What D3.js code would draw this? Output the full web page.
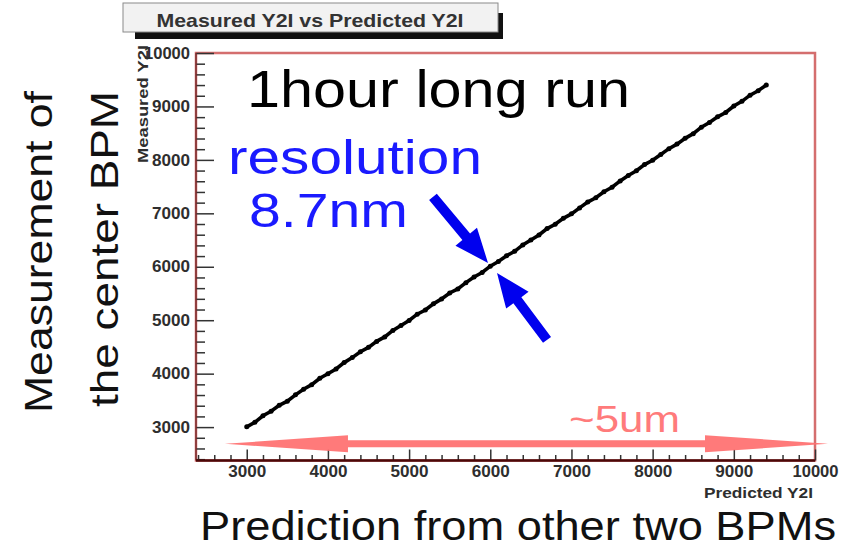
<!DOCTYPE html>
<html>
<head>
<meta charset="utf-8">
<script src="https://cdn.jsdelivr.net/npm/d3@7"></script>
<style>
  body { margin: 0; background: #fff; }
  svg { display: block; }
</style>
</head>
<body>
<div id="chart"></div>
<script>
// values
const predicted = [3000, 3100, 3200, 3300, 3400, 3500, 3600, 3700, 3800, 3900,
  4000, 4100, 4200, 4300, 4400, 4500, 4600, 4700, 4800, 4900,
  5000, 5100, 5200, 5300, 5400, 5500, 5600, 5700, 5800, 5900,
  6000, 6100, 6200, 6300, 6400, 6500, 6600, 6700, 6800, 6900,
  7000, 7100, 7200, 7300, 7400, 7500, 7600, 7700, 7800, 7900,
  8000, 8100, 8200, 8300, 8400, 8500, 8600, 8700, 8800, 8900,
  9000, 9100, 9200, 9300, 9400];
const measured = [3005, 3090, 3212, 3296, 3408, 3485, 3603, 3710, 3794, 3914,
  3998, 4088, 4207, 4300, 4411, 4492, 4604, 4687, 4809, 4902,
  4995, 5113, 5191, 5306, 5399, 5510, 5586, 5703, 5808, 5893,
  6012, 6097, 6205, 6289, 6409, 6501, 6594, 6714, 6796, 6907,
  6990, 7102, 7211, 7292, 7404, 7488, 7606, 7709, 7798, 7913,
  7993, 8100, 8210, 8295, 8403, 8491, 8612, 8699, 8806, 8887,
  9008, 9096, 9211, 9294, 9402];
const majorTicks = [3000, 4000, 5000, 6000, 7000, 8000, 9000, 10000];
const minorTicks = [2400, 2600, 2800, 3200, 3400, 3600, 3800, 4200, 4400, 4600, 4800,
  5200, 5400, 5600, 5800, 6200, 6400, 6600, 6800, 7200, 7400, 7600, 7800,
  8200, 8400, 8600, 8800, 9200, 9400, 9600, 9800];
const axisMin = 2375, axisMax = 10000;

const W = 856, H = 556;
const frame = { left: 196, right: 815, top: 53, bottom: 460.5 };

const svg = d3.select("#chart").append("svg")
  .attr("width", W).attr("height", H);

const x = d3.scaleLinear().domain([axisMin, axisMax]).range([frame.left, frame.right]);
const y = d3.scaleLinear().domain([axisMin, axisMax]).range([frame.bottom, frame.top]);

// title box with shadow
svg.append("rect").attr("x", 135).attr("y", 13).attr("width", 368).attr("height", 26).attr("fill", "#111");
svg.append("rect").attr("x", 123).attr("y", 3).attr("width", 375).attr("height", 29)
  .attr("fill", "#f2f2f2").attr("stroke", "#8a8a8a").attr("stroke-width", 1);
svg.append("text")
  .attr("x", 310).attr("y", 27)
  .attr("text-anchor", "middle")
  .attr("textLength", 307).attr("lengthAdjust", "spacingAndGlyphs")
  .style("font-family", "Liberation Sans, Arial, sans-serif")
  .style("font-size", "19px").style("font-weight", "bold")
  .style("fill", "#333")
  .text("Measured Y2I vs Predicted Y2I");

// frame
svg.append("rect")
  .attr("x", frame.left).attr("y", frame.top)
  .attr("width", frame.right - frame.left).attr("height", frame.bottom - frame.top)
  .attr("fill", "none").attr("stroke", "#d46e6e").attr("stroke-width", 2.5);

// axes
function styleAxis(g) {
  g.select(".domain").remove();
  g.selectAll(".tick line").attr("stroke", "#333").attr("stroke-width", 1.5);
}
const fmt = d3.format("d");
const gx = svg.append("g").attr("transform", `translate(0,${frame.bottom})`);
gx.call(d3.axisBottom(x).tickValues(minorTicks).tickSize(-5.5).tickFormat("")).call(styleAxis);
const gx2 = svg.append("g").attr("transform", `translate(0,${frame.bottom})`);
gx2.call(d3.axisBottom(x).tickValues(majorTicks).tickSize(-11).tickPadding(5).tickFormat(fmt)).call(styleAxis);
gx2.selectAll(".tick text").attr("dy", "0.71em");

const gy = svg.append("g").attr("transform", `translate(${frame.left},0)`);
gy.call(d3.axisLeft(y).tickValues(minorTicks).tickSize(-9).tickFormat("")).call(styleAxis);
const gy2 = svg.append("g").attr("transform", `translate(${frame.left},0)`);
gy2.call(d3.axisLeft(y).tickValues(majorTicks).tickSize(-18).tickPadding(6).tickFormat(fmt)).call(styleAxis);

svg.selectAll(".tick text")
  .attr("textLength", d => d >= 10000 ? 46 : 38).attr("lengthAdjust", "spacingAndGlyphs")
  .style("font-family", "Liberation Sans, Arial, sans-serif")
  .style("font-size", "16px").style("font-weight", "bold")
  .style("fill", "#2e2e2e");

// axis lines
svg.append("line").attr("x1", frame.left).attr("x2", frame.left).attr("y1", frame.top).attr("y2", frame.bottom)
  .attr("stroke", "#7a2f2f").attr("stroke-width", 1.5);
svg.append("line").attr("x1", frame.left).attr("x2", frame.right).attr("y1", frame.bottom).attr("y2", frame.bottom)
  .attr("stroke", "#4a0808").attr("stroke-width", 2.5);

// axis titles
svg.append("text")
  .attr("transform", "translate(148,45) rotate(-90)")
  .attr("text-anchor", "end")
  .attr("textLength", 118).attr("lengthAdjust", "spacingAndGlyphs")
  .style("font-family", "Liberation Sans, Arial, sans-serif")
  .style("font-size", "14px").style("font-weight", "bold").style("fill", "#2e2e2e")
  .text("Measured Y2I");
svg.append("text")
  .attr("x", 813).attr("y", 498)
  .attr("text-anchor", "end")
  .attr("textLength", 109).attr("lengthAdjust", "spacingAndGlyphs")
  .style("font-family", "Liberation Sans, Arial, sans-serif")
  .style("font-size", "14px").style("font-weight", "bold").style("fill", "#2e2e2e")
  .text("Predicted Y2I");

// scatter of measured vs predicted
const points = predicted.map((p, i) => [p, measured[i]]);
svg.append("path")
  .datum(points)
  .attr("fill", "none").attr("stroke", "#000").attr("stroke-width", 3.6)
  .attr("d", d3.line().x(d => x(d[0])).y(d => y(d[1])));
svg.selectAll(".pt")
  .data(points)
  .enter().append("circle")
  .attr("class", "pt")
  .attr("cx", d => x(d[0])).attr("cy", d => y(d[1]))
  .attr("r", 2.5).attr("fill", "#000");

// pink double arrow (~5um)
const pinkArrow = { from: 2732, to: 10160, at: 2688, headLeft: 4247, headRight: 8645 };
{
  const cy = y(pinkArrow.at), sh = 3.5, hh = 8.5;
  const x0 = x(pinkArrow.from), x1 = x(pinkArrow.headLeft), x2 = x(pinkArrow.headRight), x3 = x(pinkArrow.to);
  const pts = [[x0, cy], [x1, cy - hh], [x1, cy - sh], [x2, cy - sh], [x2, cy - hh], [x3, cy],
    [x2, cy + hh], [x2, cy + sh], [x1, cy + sh], [x1, cy + hh]];
  svg.append("polygon").attr("points", pts.map(p => p.join(",")).join(" "))
    .attr("fill", "#ff6f6f").attr("opacity", 0.92);
}

// blue arrows pointing at the line
const blueArrows = [
  { x0: 5294, y0: 7307, x1: 5972, y1: 6072 },
  { x0: 6699, y0: 4632, x1: 6083, y1: 5885 }
];
blueArrows.forEach(a => {
  const ax = x(a.x0), ay = y(a.y0), bx = x(a.x1), by = y(a.y1);
  const len = Math.hypot(bx - ax, by - ay);
  const ux = (bx - ax) / len, uy = (by - ay) / len, nx = -uy, ny = ux;
  const hl = 34, hw = 14, sw = 5;
  const cx = bx - ux * hl, cy = by - uy * hl;
  const pts = [
    [ax + nx * sw, ay + ny * sw], [cx + nx * sw, cy + ny * sw], [cx + nx * hw, cy + ny * hw],
    [bx, by],
    [cx - nx * hw, cy - ny * hw], [cx - nx * sw, cy - ny * sw], [ax - nx * sw, ay - ny * sw]
  ];
  svg.append("polygon").attr("points", pts.map(p => p.join(",")).join(" ")).attr("fill", "#0000ee");
});

// slide annotations
function bigText(txt, px, py, len, size, color) {
  return svg.append("text")
    .attr("x", px).attr("y", py)
    .attr("textLength", len).attr("lengthAdjust", "spacingAndGlyphs")
    .style("font-family", "Liberation Sans, Arial, sans-serif")
    .style("font-size", size + "px")
    .style("fill", color)
    .text(txt);
}
bigText("1hour long run", 247, 107, 383, 52, "#000");
bigText("~5um", 569, 432, 111, 36, "#ff7b7b");
bigText("Prediction from other two BPMs", 200, 540, 636, 40, "#111");
bigText("resolution", 228, 174, 254, 48, "#1a1aff");
bigText("8.7nm", 249, 227, 159, 48, "#1a1aff");

// two-line rotated y label as one text block
const yl = svg.append("text")
  .attr("transform", "rotate(-90)")
  .style("font-family", "Liberation Sans, Arial, sans-serif")
  .style("font-size", "38px").style("fill", "#111");
yl.append("tspan").attr("x", -413).attr("y", 52)
  .attr("textLength", 322).attr("lengthAdjust", "spacingAndGlyphs").text("Measurement of");
yl.append("tspan").attr("x", -407).attr("y", 118)
  .attr("textLength", 316).attr("lengthAdjust", "spacingAndGlyphs").text("the center BPM");
</script>
</body>
</html>
